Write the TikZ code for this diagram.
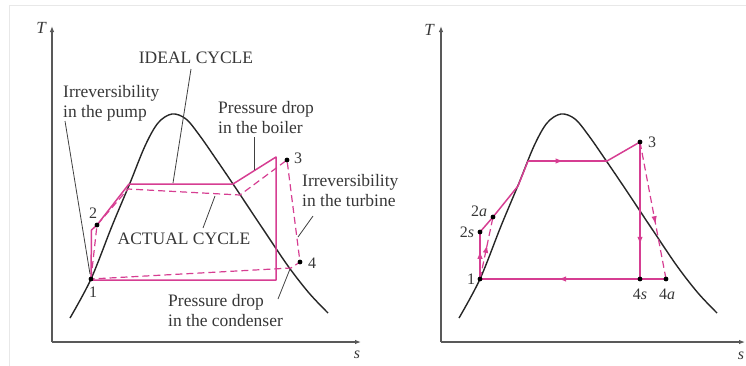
\documentclass[tikz,border=0pt]{standalone}
\usepackage{fontspec}
\setmainfont{Liberation Serif}
\usetikzlibrary{arrows.meta,decorations.markings}
\definecolor{cycpink}{RGB}{214,62,146}
\definecolor{txt}{RGB}{55,55,55}
\begin{document}
\begin{tikzpicture}[x=1pt,y=-1pt,
  axis/.style={draw=black!65,line width=1.1pt,-{Latex[length=6pt,width=4.5pt]}},
  dome/.style={draw=black!85,line width=1.4pt},
  cyc/.style={draw=cycpink,line width=1.5pt,line join=round},
  cycd/.style={draw=cycpink,line width=1.2pt,dash pattern=on 7pt off 4pt},
  leader/.style={draw=black!75,line width=0.8pt},
  lbl/.style={text=txt,font=\fontsize{17.5}{20}\selectfont,inner sep=0pt},
  note/.style={lbl,align=left,anchor=west},
  num/.style={text=txt,font=\fontsize{16}{18}\selectfont,inner sep=0pt},
  dot/.style={fill=black},
  midarrow/.style={postaction={decorate},decoration={markings,
     mark=at position #1 with {\arrow[cycpink]{Latex[length=8pt,width=5.5pt]}}}}]
\useasboundingbox (0,0) rectangle (746,365);
\draw[gray!18,line width=1pt] (9.5,370) -- (9.5,5.5) -- (750,5.5);

% ---------- LEFT PANEL ----------
\coordinate (LO) at (52,342);
\coordinate (LT) at (52,26);
\coordinate (LS) at (361,342);
\draw[axis] (LO) -- (LT);
\draw[axis] (LO) -- (LS);
\node[lbl,font=\fontsize{17}{20}\selectfont\itshape] (Tl) at (41,28) {T};
\node[lbl,font=\fontsize{16}{20}\selectfont\itshape] (sl) at (357,355) {s};

\draw[dome] plot[smooth,tension=0.55] coordinates {(70,318) (91,279) (112,226) (130,183) (145,146) (158,123) (172,114) (186,119) (200,136) (216,159) (233,184) (263,229) (288,266) (309,293) (328,313)};

\coordinate (p1) at (91,279);
\coordinate (p2) at (97,225);
\coordinate (p3) at (287,160);
\coordinate (p4) at (300,262);
\coordinate (a1) at (91.5,230);
\coordinate (a2) at (129,184);
\coordinate (a3) at (233,184);
\coordinate (a4) at (276,157);
\coordinate (a5) at (276,280);
\coordinate (a6) at (91,280);
\coordinate (b1) at (128,189);
\coordinate (b2) at (240,195);
\coordinate (b3) at (291,268);

% ideal cycle
\draw[cyc] (p1) -- (a1) -- (p2) -- (a2) -- (a3) -- (a4) -- (a5) -- (a6) -- cycle;
% actual cycle
\draw[cycd] (p1) -- (p2) -- (b1) -- (b2) -- (p3) -- (p4) -- (b3) -- (p1);

\foreach \p in {p1,p2,p3,p4} \fill[dot] (\p) circle (2.4pt);
\node[num] (n1) at (93,292) {1};
\node[num] (n2) at (93,213) {2};
\node[num] (n3) at (298,158) {3};
\node[num] (n4) at (312,263) {4};

% labels and leaders
\node[lbl] (ideal) at (196,58) {IDEAL CYCLE};
\coordinate (ideal1) at (191,69);
\coordinate (ideal2) at (173,183);
\draw[leader] (ideal1) -- (ideal2);

\node[note] (pump) at (63,103) {Irreversibility\\in the pump};
\coordinate (pump1) at (65,121);
\coordinate (pump2) at (90,274);
\draw[leader] (pump1) -- (pump2);

\node[note] (boiler) at (218,118) {Pressure drop\\in the boiler};
\coordinate (boil1) at (254,137);
\coordinate (boil2) at (254,170);
\draw[leader] (boil1) -- (boil2);

\node[note] (turb) at (302,191) {Irreversibility\\in the turbine};
\coordinate (turb1) at (313,216);
\coordinate (turb2) at (298,237);
\draw[leader] (turb1) -- (turb2);

\node[lbl] (actual) at (184,239) {ACTUAL CYCLE};
\coordinate (act1) at (203,228);
\coordinate (act2) at (215,196);
\draw[leader] (act1) -- (act2);

\node[note] (cond) at (168,311) {Pressure drop\\in the condenser};
\coordinate (cond1) at (278,299);
\coordinate (cond2) at (290,269);
\draw[leader] (cond1) -- (cond2);

% ---------- RIGHT PANEL ----------
\coordinate (RO) at (441,342);
\coordinate (RT) at (441,26);
\coordinate (RS) at (745,342);
\draw[axis] (RO) -- (RT);
\draw[axis] (RO) -- (RS);
\node[lbl,font=\fontsize{17}{20}\selectfont\itshape] (Tr) at (429,30) {T};
\node[lbl,font=\fontsize{16}{20}\selectfont\itshape] (sr) at (741,356) {s};

\draw[dome,xshift=389pt] plot[smooth,tension=0.55] coordinates {(70,318) (91,279) (112,226) (130,183) (145,146) (158,123) (172,114) (186,119) (200,136) (216,159) (233,184) (263,229) (288,266) (309,293) (328,313)};

\coordinate (r1) at (480,279);
\coordinate (r2s) at (480,232);
\coordinate (r2a) at (493,217);
\coordinate (rM) at (518,186);
\coordinate (rL) at (528,161);
\coordinate (rV) at (607,161);
\coordinate (r3) at (640,142);
\coordinate (r4s) at (640,279);
\coordinate (r4a) at (666,279);

\draw[cyc,midarrow=0.6] (r1) -- (r2s);
\draw[cyc] (r2s) -- (r2a) -- (rM) -- (rL);
\draw[cyc,midarrow=0.45] (rL) -- (rV);
\draw[cyc] (rV) -- (r3);
\draw[cyc,midarrow=0.75] (r3) -- (r4s);
\draw[cyc,midarrow=0.58] (r4a) -- (r1);
\draw[cycd,midarrow=0.55] (r1) -- (r2a);
\draw[cycd,midarrow=0.6] (r3) -- (r4a);

\foreach \p in {r1,r2s,r2a,r3,r4s,r4a} \fill[dot] (\p) circle (2.4pt);
\node[num] (m1) at (471,279) {1};
\node[num] (m2s) at (467,232) {2\textit{s}};
\node[num] (m2a) at (479,211) {2\textit{a}};
\node[num] (m3) at (652,142) {3};
\node[num] (m4s) at (640,294) {4\textit{s}};
\node[num] (m4a) at (667,294) {4\textit{a}};
\end{tikzpicture}
\end{document}
